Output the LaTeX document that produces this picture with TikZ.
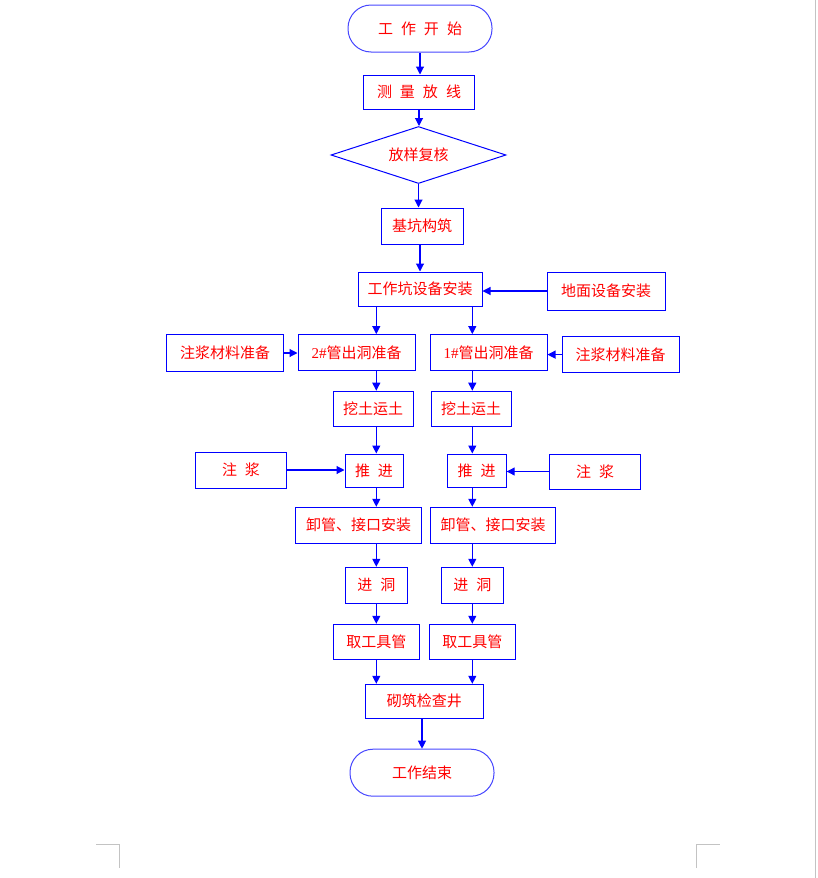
\documentclass[tikz,border=0pt]{standalone}
\usepackage{fontspec}
\setmainfont{Liberation Serif}
\newfontfamily\cjk{Noto Sans CJK SC}
\usetikzlibrary{shapes.geometric,arrows.meta}
\definecolor{termblue}{RGB}{70,70,255}
\definecolor{pagegray}{RGB}{195,195,195}

\begin{document}
\begin{tikzpicture}[x=1pt, y=-1pt,
	box/.style={draw=blue, line width=1pt, rectangle, inner sep=0pt, text=red,
		font={\cjk\fontsize{15pt}{17pt}\selectfont\spaceskip=8pt\relax}},
	term/.style={box, draw=termblue, rounded corners=23pt, minimum width=144pt, minimum height=47pt},
	arr/.style={draw=blue, line width=1.1pt, -{Triangle[length=8pt, width=8pt]}},
	cropline/.style={draw=pagegray, line width=1pt}]
				\useasboundingbox (0, 0) rectangle (817, 878);
				% main line
				\node[term] (S)at(420, 28.5) {工 作 开 始};
				\node[box, minimum width=111pt, minimum height=34pt] (M)at(419, 92) {测 量 放 线};
				\node[box, diamond, aspect=3, minimum width=175pt, minimum height=57pt] (F)at(418.5, 155) {放样复核};
				\node[box, minimum width=82pt, minimum height=36pt] (K)at(422, 226) {基坑构筑};
				\node[box, minimum width=124pt, minimum height=34pt] (G)at(420, 289) {工作坑设备安装};
				\node[box, minimum width=118pt, minimum height=38pt] (E)at(606, 291) {地面设备安装};
				% two pipes
				\node[box, minimum width=117pt, minimum height=37pt] (L)at(225, 353) {注浆材料准备};
				\node[box, minimum width=117pt, minimum height=36pt] (P2)at(356.5, 352.6) {{\rmfamily 2\#}管出洞准备};
				\node[box, minimum width=117pt, minimum height=36pt] (P1)at(488.5, 352.6) {{\rmfamily 1\#}管出洞准备};
				\node[box, minimum width=117pt, minimum height=36pt] (R)at(620.5, 354.6) {注浆材料准备};
				\node[box, minimum width=80pt, minimum height=35pt] (W2)at(373, 408.7) {挖土运土};
				\node[box, minimum width=80pt, minimum height=35pt] (W1)at(471, 408.7) {挖土运土};
				\node[box, minimum width=91pt, minimum height=36pt] (Z2)at(241, 470) {注 浆};
				\node[box, minimum width=58pt, minimum height=33pt] (T2)at(374, 470.5) {推 进};
				\node[box, minimum width=59pt, minimum height=33pt] (T1)at(476.7, 470.5) {推 进};
				\node[box, minimum width=91pt, minimum height=35pt] (Z1)at(595, 471.5) {注 浆};
				\node[box, minimum width=126pt, minimum height=36pt] (U2)at(358.5, 525.3) {卸管、接口安装};
				\node[box, minimum width=125pt, minimum height=36pt] (U1)at(493, 525.3) {卸管、接口安装};
				\node[box, minimum width=62pt, minimum height=36pt] (H2)at(376.3, 585.3) {进 洞};
				\node[box, minimum width=62pt, minimum height=36pt] (H1)at(472.3, 585.3) {进 洞};
				\node[box, minimum width=86pt, minimum height=35pt] (Q2)at(376.3, 641.8) {取工具管};
				\node[box, minimum width=86pt, minimum height=35pt] (Q1)at(472.3, 641.8) {取工具管};
				\node[box, minimum width=118pt, minimum height=34pt] (C)at(424.3, 701.3) {砌筑检查井};
				\node[term] (X)at(422, 772.7) {工作结束};
				% arrows
				\draw[arr] (S.south) -- (S.south |- M.north);
				\draw[arr] (M.south) -- (M.south |- F.north);
				\draw[arr] (F.south) -- (F.south |- K.north);
				\draw[arr] (K.south -| G) -- (G.north);
				\draw[arr] (E.west) -- (E.west -| G.east);
				\draw[arr] (G.south -| H2) -- (P2.north -| H2);
				\draw[arr] (G.south -| H1) -- (P1.north -| H1);
				\draw[arr] (L.east) -- (L.east -| P2.west);
				\draw[arr] (R.west) -- (R.west -| P1.east);
				\draw[arr] (P2.south -| H2) -- (W2.north -| H2);
				\draw[arr] (P1.south -| H1) -- (W1.north -| H1);
				\draw[arr] (W2.south -| H2) -- (T2.north -| H2);
				\draw[arr] (W1.south -| H1) -- (T1.north -| H1);
				\draw[arr] (Z2.east) -- (Z2.east -| T2.west);
				\draw[arr] (Z1.west) -- (Z1.west -| T1.east);
				\draw[arr] (T2.south -| H2) -- (U2.north -| H2);
				\draw[arr] (T1.south -| H1) -- (U1.north -| H1);
				\draw[arr] (U2.south -| H2) -- (H2.north);
				\draw[arr] (U1.south -| H1) -- (H1.north);
				\draw[arr] (H2.south) -- (Q2.north -| H2);
				\draw[arr] (H1.south) -- (Q1.north -| H1);
				\draw[arr] (Q2.south) -- (C.north -| Q2);
				\draw[arr] (Q1.south) -- (C.north -| Q1);
				\draw[arr] (C.south -| X) -- (X.north);
				% page corners
				\draw[cropline] (96, 844) -- (119.7, 844) -- (119.7, 868);
				\draw[cropline] (696.3, 868) -- (696.3, 844) -- (720, 844);
				\draw[cropline] (815.7, 0) -- (815.7, 878);
\end{tikzpicture}
\end{document}
